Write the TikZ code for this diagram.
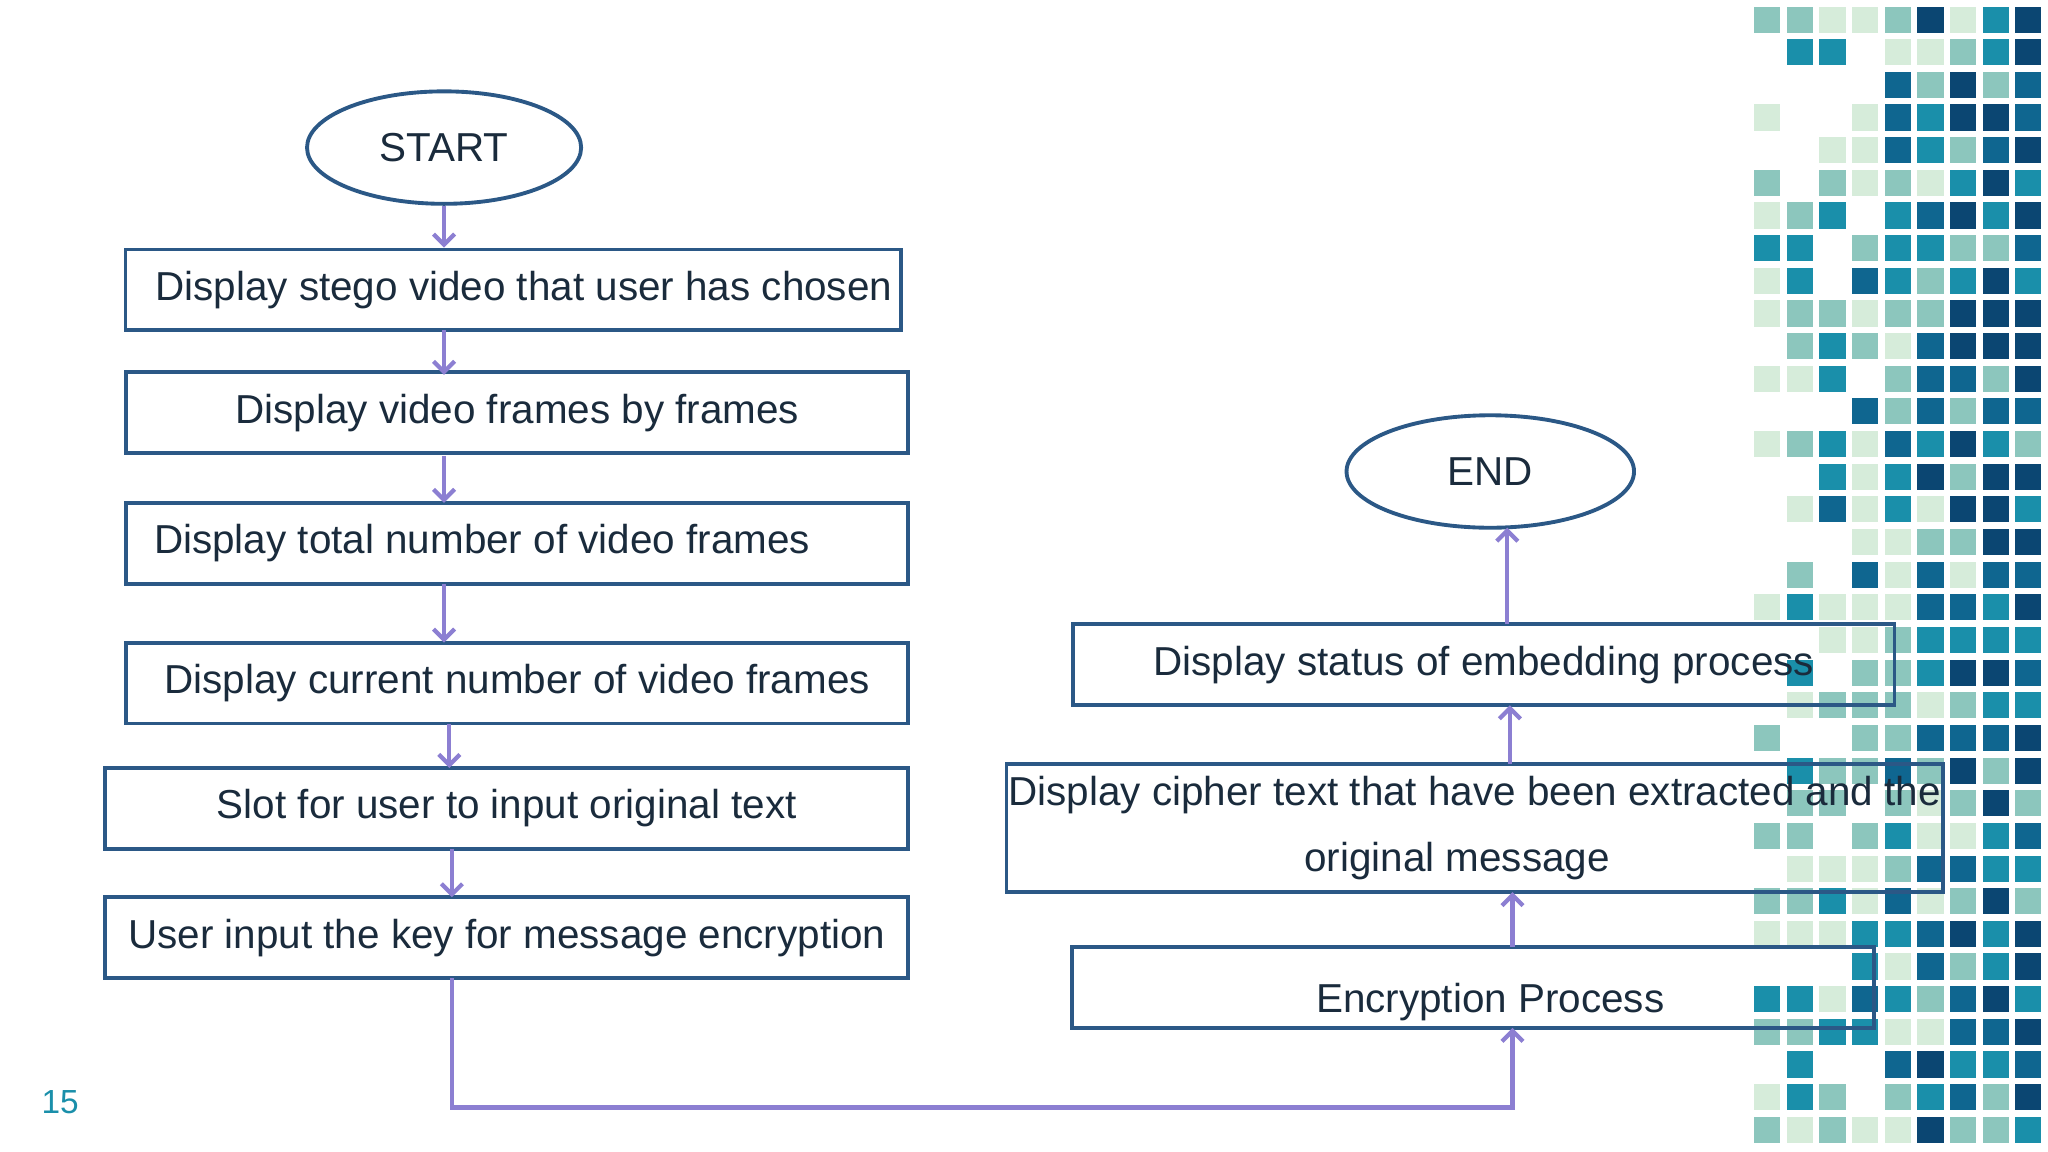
\documentclass[tikz,border=0pt]{standalone}
\usepackage{fontspec}
\setmainfont{Liberation Sans}
\usetikzlibrary{arrows.meta,shapes.geometric}
\definecolor{bx}{HTML}{2B5886}
\definecolor{ar}{HTML}{8C7FD2}
\definecolor{c1}{HTML}{D6ECDA}
\definecolor{c2}{HTML}{8CC6BD}
\definecolor{c3}{HTML}{1A8FAA}
\definecolor{c4}{HTML}{0F6690}
\definecolor{c5}{HTML}{0B4672}
\definecolor{tx}{HTML}{1A2B3C}
\begin{document}
\begin{tikzpicture}[x=0.013061cm,y=-0.013061cm,
 box/.style={draw=bx,line width=1.1pt,fill=white,inner sep=0pt,font=\fontsize{11.5}{16}\selectfont,text=tx,align=center,minimum height=23pt},
 ell/.style={draw=bx,line width=1.1pt,fill=white,ellipse,minimum height=32pt},
 lbl/.style={font=\fontsize{11.5}{14}\selectfont,text=tx},
 arr/.style={draw=ar,line width=1.2pt,-{Straight Barb[length=3pt,width=6pt]}}]
\useasboundingbox (0,0) rectangle (1568,882);
\pgfmathsetseed{7}
\foreach \i in {0,...,9}{
 \foreach \j in {0,...,34}{
  \pgfmathsetmacro\rv{rnd+\i*0.11}
  \pgfmathsetmacro\kv{\rv<0.45?0:(\rv<0.75?1:(\rv<0.95?2:(\rv<1.2?3:(\rv<1.45?4:5))))}
  \pgfmathtruncatemacro\kk{\kv}
  \ifnum\kk>0
   \fill[color=c\kk] ({1343+25*\i},{5+25*\j}) rectangle +(20,20);
  \fi
 }}
\node[ell,minimum width=78pt] (start) at (340,113) {};
\node[lbl] at (start) {START};
\node[box,minimum width=220.7pt] (b1) at (393,222) {\hspace{6pt}Display stego video that user has chosen};
\node[box,minimum width=222.6pt] (b2) at (396,316) {Display video frames by frames};
\node[box,minimum width=222.6pt] (b3) at (396,416) {\hspace{-20pt}Display total number of video frames};
\node[box,minimum width=222.6pt] (b4) at (396,523) {Display current number of video frames};
\node[box,minimum width=228.5pt] (b5) at (388,619) {Slot for user to input original text};
\node[box,minimum width=228.5pt] (b6) at (388,718) {User input the key for message encryption};
\node[ell,minimum width=81.8pt] (end) at (1141,361) {};
\node[lbl] at (end) {END};
\node[box,fill=none,minimum width=233.7pt] (b7) at (1136,509) {Display status of embedding process};
\node[box,fill=none,minimum width=266.4pt,minimum height=36.4pt,font=\fontsize{11.5}{18.6}\selectfont] (b8) at (1129,634) {Display cipher text that have been extracted and the\\\hspace{-10pt}original message};
\node[box,fill=none,minimum width=228.2pt] (b9) at (1128,756) {};
\node[lbl] at (1141,767) {Encryption Process};
\node[text=c3,font=\fontsize{9.5}{12}\selectfont] (pg) at (46,844) {15};
\draw[arr] (start.south) -- (start.south|-b1.north);
\draw[arr] (340,253) -- (340,287);
\draw[arr] (340,349) -- (340,385);
\draw[arr] (340,447) -- (340,492);
\draw[arr] (344,554) -- (344,588);
\draw[arr] (346,650) -- (346,687);
\coordinate (c1) at (346,848);
\coordinate (c2) at (1158,848);
\draw[arr] (346,749) -- (c1) -- (c2) -- (1158,787);
\draw[arr] (1158,725) -- (1158,683);
\draw[arr] (1156,585) -- (1156,540);
\draw[arr] (1154,478) -- (1154,404);
\end{tikzpicture}
\end{document}
